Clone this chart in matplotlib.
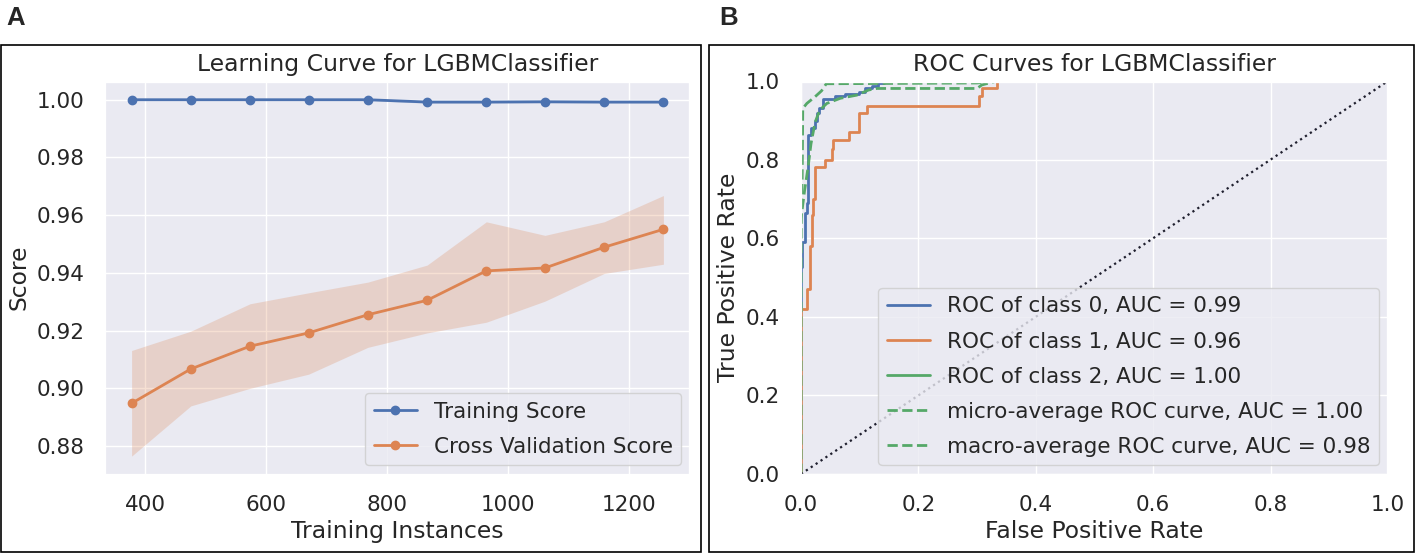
import numpy as np
import matplotlib
matplotlib.use("Agg")
import matplotlib.pyplot as plt
from matplotlib.patches import Rectangle
from matplotlib.lines import Line2D
import seaborn as sns

sns.set_theme(style="darkgrid")
plt.rcParams['font.family'] = ['DejaVu Sans']

# --- learning curve data (panel A)
train_sizes = [377, 475, 573, 670, 768, 866, 964, 1061, 1159, 1257]
train_mean = [1.0, 1.0, 1.0, 1.0, 1.0, 0.9992, 0.9992, 0.9993, 0.9992, 0.9992]
train_lower = [0.9997, 0.9997, 0.9997, 0.9997, 0.9997, 0.9988, 0.9988, 0.9989, 0.9988, 0.9988]
train_upper = [1.0003, 1.0003, 1.0003, 1.0003, 1.0003, 0.9996, 0.9996, 0.9997, 0.9996, 0.9996]
cv_mean = [0.8948, 0.9067, 0.9146, 0.9192, 0.9255, 0.9305, 0.9407, 0.9417, 0.9489, 0.9551]
cv_lower = [0.8765, 0.8939, 0.9000, 0.9049, 0.9142, 0.9192, 0.9229, 0.9302, 0.9398, 0.9430]
cv_upper = [0.9131, 0.9198, 0.9293, 0.9331, 0.9368, 0.9427, 0.9577, 0.9530, 0.9577, 0.9668]

# --- ROC data (panel B)
fpr0 = [0.0, 0.0, 0.002, 0.006, 0.010, 0.012, 0.017, 0.023, 0.028, 0.031, 0.038,
        0.058, 0.075, 0.098, 0.109, 0.121, 0.132, 0.142, 1.0]
tpr0 = [0.0, 0.526, 0.591, 0.663, 0.689, 0.863, 0.880, 0.897, 0.918, 0.931, 0.954,
        0.963, 0.967, 0.973, 0.981, 0.988, 0.994, 1.0, 1.0]
fpr1 = [0.0, 0.0, 0.011, 0.015, 0.018, 0.021, 0.024, 0.041, 0.052, 0.055, 0.081,
        0.098, 0.113, 0.303, 0.308, 0.334, 1.0]
tpr1 = [0.0, 0.42, 0.472, 0.58, 0.66, 0.70, 0.782, 0.80, 0.826, 0.85, 0.871,
        0.918, 0.937, 0.961, 0.982, 1.0, 1.0]
fpr2 = [0.0, 0.0, 1.0]
tpr2 = [0.0, 1.0, 1.0]
fpr_micro = [0.0, 0.0, 0.002, 0.003, 0.010, 0.024, 0.035, 0.043, 0.30, 0.33, 1.0]
tpr_micro = [0.0, 0.62, 0.75, 0.93, 0.943, 0.96, 0.975, 0.993, 0.995, 1.0, 1.0]
fpr_macro = [0.0, 0.0, 0.006, 0.012, 0.017, 0.024, 0.032, 0.044, 0.067, 0.095,
             0.115, 0.129, 0.30, 0.308, 0.334, 1.0]
tpr_macro = [0.0, 0.65, 0.72, 0.78, 0.84, 0.895, 0.926, 0.943, 0.956, 0.964,
             0.977, 0.981, 0.981, 0.99, 1.0, 1.0]
roc_labels = ['ROC of class 0, AUC = 0.99', 'ROC of class 1, AUC = 0.96',
              'ROC of class 2, AUC = 1.00', 'micro-average ROC curve, AUC = 1.00',
              'macro-average ROC curve, AUC = 0.98']

blue, orange, green = '#4C72B0', '#DD8452', '#55A868'
W, H = 1415, 553
fig = plt.figure(figsize=(W / 100, H / 100), dpi=100)

def px_axes(x0, x1, y0, y1):
    return fig.add_axes([x0 / W, (H - y1) / H, (x1 - x0) / W, (y1 - y0) / H])

ax1 = px_axes(105, 690, 81, 474)
ax2 = px_axes(801, 1388, 81, 474)

# panel A
ax1.fill_between(train_sizes, train_lower, train_upper, color=blue, alpha=0.25, lw=0)
ax1.fill_between(train_sizes, cv_lower, cv_upper, color=orange, alpha=0.25, lw=0)
ax1.plot(train_sizes, train_mean, 'o-', color=blue, lw=2, ms=6, label='Training Score')
ax1.plot(train_sizes, cv_mean, 'o-', color=orange, lw=2, ms=6, label='Cross Validation Score')
ax1.set_title('Learning Curve for LGBMClassifier', fontsize=16.9, pad=7.5)
ax1.set_xlabel('Training Instances', fontsize=16.9)
ax1.set_ylabel('Score', fontsize=16.9)
ax1.set_yticks([0.88, 0.90, 0.92, 0.94, 0.96, 0.98, 1.00])
ax1.yaxis.set_major_formatter(matplotlib.ticker.FormatStrFormatter('%.2f'))
ax1.legend(loc='lower right', fontsize=15.5, labelspacing=0.7, borderaxespad=0.4)

# panel B
l0, = ax2.plot(fpr0, tpr0, color=blue, lw=2, drawstyle='steps-post')
l1, = ax2.plot(fpr1, tpr1, color=orange, lw=2, drawstyle='steps-post')
# class 2 runs along the axes edges and is not visible in the figure
ax2.plot(fpr2, tpr2, color=green, lw=2, visible=False)
l2 = Line2D([], [], color=green, lw=2)
l3, = ax2.plot(fpr_micro, tpr_micro, '--', color=green, lw=2)
l4, = ax2.plot(fpr_macro, tpr_macro, '--', color=green, lw=2)
ax2.plot([0, 1], [0, 1], ':', color='#1f1f2e', lw=1.6)
ax2.set_xlim(0, 1)
ax2.set_ylim(0, 1)
ax2.set_title('ROC Curves for LGBMClassifier', fontsize=16.9, pad=7.5)
ax2.set_xlabel('False Positive Rate', fontsize=16.9)
ax2.set_ylabel('True Positive Rate', fontsize=16.9)
ax2.legend([l0, l1, l2, l3, l4], roc_labels, loc='lower right', fontsize=15.5,
           labelspacing=0.7, borderaxespad=0.4)

for ax in (ax1, ax2):
    ax.tick_params(labelsize=15.5, length=0, pad=15)
    # white seaborn spines sit over lines running along the edges
    for side in ('top', 'right'):
        ax.spines[side].set_linewidth(2.4)
    for side in ('left', 'bottom'):
        ax.spines[side].set_linewidth(0.9)
    for sp in ax.spines.values():
        sp.set_color('white')

# panel frames and letters
fig.add_artist(Rectangle((1 / W, 1 / H), 700 / W, (H - 45.5) / H, transform=fig.transFigure,
                         fill=False, ec='black', lw=1.2))
fig.add_artist(Rectangle((709 / W, 1 / H), 705 / W, (H - 45.5) / H, transform=fig.transFigure,
                         fill=False, ec='black', lw=1.2))
fig.text(6 / W, 1 - 25 / H, 'A', fontsize=18.5, fontweight='bold', family='Liberation Sans')
fig.text(719 / W, 1 - 25 / H, 'B', fontsize=18.5, fontweight='bold', family='Liberation Sans')

fig.savefig('out.png', dpi=100)
